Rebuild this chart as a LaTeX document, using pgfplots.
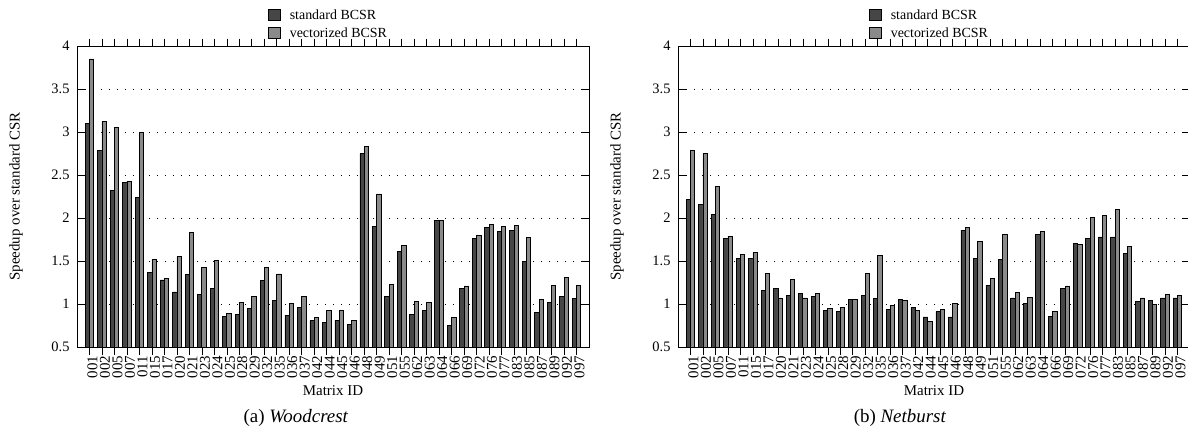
\documentclass[border=0pt]{standalone}
\usepackage{pgfplots}
\pgfplotsset{compat=1.18}
\usepackage{pgfplotstable}
\usepackage{fontspec}
\setmainfont{Liberation Serif}
\definecolor{stdc}{RGB}{70,70,70}
\definecolor{vecc}{RGB}{138,138,138}

\pgfplotstableread{
id std vec
1 3.10 3.85
2 2.79 3.12
3 2.32 3.05
4 2.41 2.43
5 2.24 3.00
6 1.37 1.52
7 1.28 1.30
8 1.14 1.55
9 1.34 1.83
10 1.11 1.43
11 1.18 1.51
12 0.86 0.89
13 0.88 1.02
14 0.95 1.09
15 1.27 1.43
16 1.04 1.35
17 0.87 1.01
18 0.96 1.09
19 0.81 0.84
20 0.79 0.93
21 0.81 0.93
22 0.76 0.81
23 2.75 2.83
24 1.90 2.28
25 1.09 1.23
26 1.61 1.68
27 0.88 1.03
28 0.92 1.02
29 1.97 1.97
30 0.75 0.84
31 1.18 1.21
32 1.76 1.80
33 1.89 1.92
34 1.84 1.90
35 1.86 1.91
36 1.50 1.77
37 0.90 1.05
38 1.02 1.22
39 1.09 1.31
40 1.06 1.22
}\woodcrest

\pgfplotstableread{
id std vec
1 2.22 2.79
2 2.16 2.75
3 2.04 2.37
4 1.76 1.79
5 1.53 1.58
6 1.53 1.60
7 1.16 1.36
8 1.18 1.07
9 1.10 1.29
10 1.12 1.07
11 1.09 1.12
12 0.92 0.95
13 0.91 0.96
14 1.05 1.05
15 1.10 1.36
16 1.06 1.56
17 0.94 0.98
18 1.05 1.04
19 0.96 0.93
20 0.85 0.80
21 0.91 0.94
22 0.85 1.01
23 1.86 1.89
24 1.53 1.73
25 1.22 1.30
26 1.52 1.81
27 1.07 1.13
28 1.01 1.08
29 1.81 1.84
30 0.86 0.91
31 1.18 1.21
32 1.70 1.69
33 1.76 2.01
34 1.78 2.03
35 1.78 2.10
36 1.59 1.67
37 1.03 1.07
38 1.04 0.99
39 1.07 1.11
40 1.07 1.10
}\netburst

\pgfplotsset{
  speedaxis/.style={
    anchor=south west,
    scale only axis,
    width=512bp, height=301bp,
    xmin=0, xmax=41,
    ymin=0.5, ymax=4,
    ytick={0.5,1,1.5,2,2.5,3,3.5,4},
    xtick={1,...,40},
    xticklabels={001,002,005,007,011,015,017,020,021,023,024,025,028,029,032,035,036,037,042,044,045,046,048,049,051,055,062,063,064,066,069,072,076,077,083,085,087,089,092,097},
    xticklabel style={rotate=90, anchor=east, font=\fontsize{15}{15}\selectfont, inner sep=1bp, yshift=-3bp},
    yticklabel style={font=\fontsize{14.5}{14.5}\selectfont, xshift=-4bp},
    /pgf/number format/assume math mode=true,
    tick pos=both,
    tick align=inside,
    major tick length=7.5bp,
    tick style={black, line width=0.7bp},
    axis line style={black, line width=0.9bp},
    ymajorgrids,
    major grid style={black, line width=0.7bp, dash pattern=on 1.2bp off 6.8bp},
    xlabel={Matrix ID},
    ylabel={Speedup over standard CSR},
    label style={font=\fontsize{15}{15}\selectfont},
    xlabel style={at={(axis description cs:0.5,-0.162)}, anchor=base},
    ylabel style={at={(axis description cs:-0.119,0.5)}, anchor=center},
    ybar=0pt,
    bar width=4.3bp,
    legend image code/.code={\draw[#1, line width=0.8bp] (0bp,-5.5bp) rectangle (12bp,5.5bp);},
    legend style={at={(axis description cs:0.373,1.017)}, anchor=south west, draw=none, fill=none,
      inner sep=0pt, outer sep=0pt, row sep=3bp,
      font=\fontsize{14}{14}\selectfont,
      nodes={inner sep=2bp}},
    legend cell align=left,
  },
  stdbar/.style={draw=black, line width=0.8bp, fill=stdc},
  vecbar/.style={draw=black, line width=0.8bp, fill=vecc},
}

\begin{document}
\begin{tikzpicture}
\useasboundingbox (0bp,0bp) rectangle (1188bp,-427bp);
\begin{axis}[speedaxis, at={(77bp,-347bp)}]
\addplot[stdbar] table[x=id, y=std] {\woodcrest};
\addplot[vecbar] table[x=id, y=vec] {\woodcrest};
\legend{\hspace{7bp}standard BCSR, \hspace{7bp}vectorized BCSR}
\end{axis}
\node[anchor=base, font=\fontsize{19}{19}\selectfont] at (296bp,-422bp) {(a) \textit{Woodcrest}};

\begin{axis}[speedaxis, at={(678bp,-347bp)}]
\addplot[stdbar] table[x=id, y=std] {\netburst};
\addplot[vecbar] table[x=id, y=vec] {\netburst};
\legend{\hspace{7bp}standard BCSR, \hspace{7bp}vectorized BCSR}
\end{axis}
\node[anchor=base, font=\fontsize{19}{19}\selectfont] at (900bp,-422bp) {(b) \textit{Netburst}};
\end{tikzpicture}
\end{document}
